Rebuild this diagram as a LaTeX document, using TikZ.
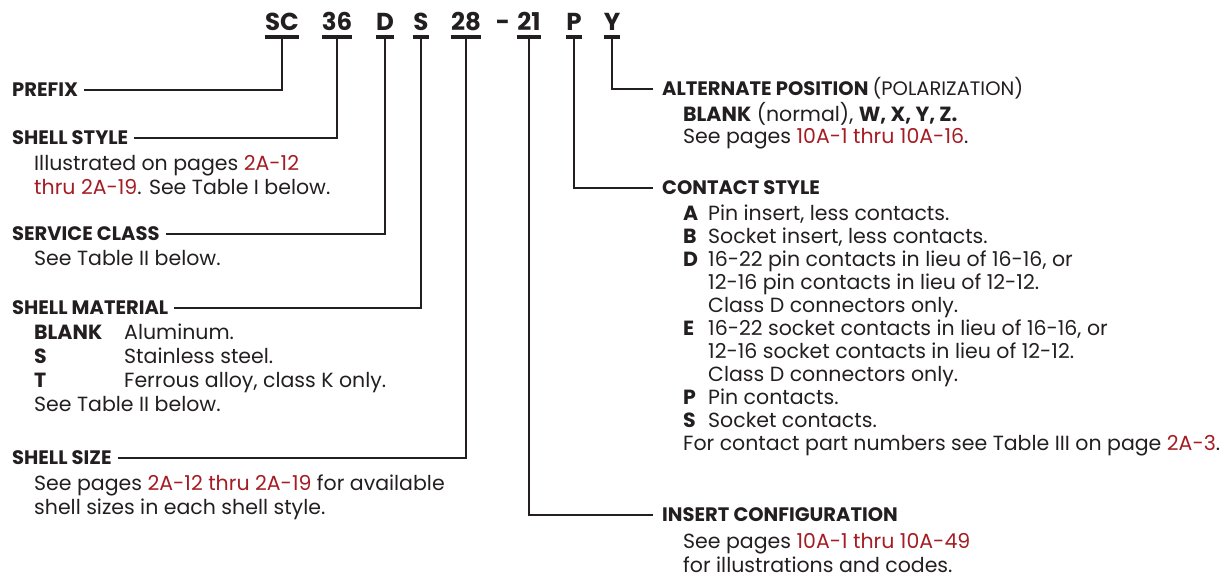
\documentclass[tikz,border=0pt]{standalone}
\usepackage{fontspec}
\setmainfont{Poppins}
\usepackage{xcolor}
\usepackage{tikz}
\usetikzlibrary{
    positioning
}

\definecolor{inkgray}{HTML}{231F20}
\definecolor{pagered}{HTML}{A51D24}

\newcommand{\pg}[1]{\textcolor{pagered}{#1}}
\newcommand{\lines}[1]{\begin{tabular}[t]{@{}l@{}}#1\end{tabular}}

\begin{document}
\begin{tikzpicture}[
    x=1pt, y=-1pt,
    color=inkgray,
    code/.style={
        font=\fontsize{24.5}{28}\selectfont\bfseries,
        inner sep=0pt,
        anchor=base
    },
    bar/.style={line width=4pt},
    lead/.style={line width=1.6pt},
    head/.style={
        font=\fontsize{19.5}{22}\selectfont\bfseries,
        anchor=west,
        inner xsep=6pt,
        inner ysep=0pt,
        text height=13.6pt,
        text depth=0pt
    },
    rhead/.style={head, inner xsep=9pt},
    desc/.style={
        font=\fontsize{20.5}{24.3}\selectfont,
        anchor=base west,
        inner sep=0pt
    },
    rdesc/.style={desc, font=\fontsize{20.5}{23}\selectfont}
]
\useasboundingbox (0,0) rectangle (1231,581);

% part number
\node[code] (sc) at (282,30) {SC};
\node[code] (n36) at (337,30) {36};
\node[code] (d) at (385,30) {D};
\node[code] (s) at (421,30) {S};
\node[code] (n28) at (466,30) {28};
\node[code] (dash) at (503,30) {-};
\node[code] (n21) at (529,30) {21};
\node[code] (p) at (574,30) {P};
\node[code] (y) at (612,30) {Y};

\foreach \n in {sc,n36,d,s,n28,n21,p,y}
    \draw[bar] ([yshift=-7pt]\n.base west) -- ([yshift=-7pt]\n.base east);

% left column
\node[head] (prefix) at (6,90) {PREFIX};

\node[head] (shellstyle) at (6,138) {SHELL STYLE};
\node[desc] (shellstyletxt) at (34,170)
{\lines{Illustrated on pages \pg{2A-12}\\ \pg{thru 2A-19}. See Table I below.}};

\node[head] (service) at (6,234) {SERVICE CLASS};
\node[desc] (servicetxt) at (34,265) {See Table II below.};

\node[head] (material) at (6,308) {SHELL MATERIAL};
\node[desc] (materialtxt) at (34,339)
{\begin{tabular}[t]{@{}p{90pt}@{}l@{}}
\textbf{BLANK} & Aluminum.\\
\textbf{S} & Stainless steel.\\
\textbf{T} & Ferrous alloy, class K only.\\
\multicolumn{2}{@{}l@{}}{See Table II below.}
\end{tabular}};

\node[head] (size) at (6,458) {SHELL SIZE};
\node[desc] (sizetxt) at (34,490)
{\lines{See pages \pg{2A-12 thru 2A-19} for available\\ shell sizes in each shell style.}};

% right column
\node[rhead] (altpos) at (653,89) {ALTERNATE POSITION \mdseries(POLARIZATION)};
\node[desc] (altpostxt) at (683,121)
{\begin{tabular}[t]{@{}l@{}}
\textbf{BLANK} (normal), \textbf{W, X, Y, Z.}\\[-2pt]
See pages \pg{10A-1 thru 10A-16}.
\end{tabular}};

\node[rhead] (contact) at (653,188) {CONTACT STYLE};
\node[rdesc] (contacttxt) at (683,220)
{\begin{tabular}[t]{@{}p{25pt}@{}l@{}}
\textbf{A} & Pin insert, less contacts.\\
\textbf{B} & Socket insert, less contacts.\\
\textbf{D} & 16-22 pin contacts in lieu of 16-16, or\\
 & 12-16 pin contacts in lieu of 12-12.\\
 & Class D connectors only.\\
\textbf{E} & 16-22 socket contacts in lieu of 16-16, or\\
 & 12-16 socket contacts in lieu of 12-12.\\
 & Class D connectors only.\\
\textbf{P} & Pin contacts.\\
\textbf{S} & Socket contacts.\\
\multicolumn{2}{@{}l@{}}{For contact part numbers see Table III on page \pg{2A-3}.}
\end{tabular}};

\node[rhead] (insert) at (653,515) {INSERT CONFIGURATION};
\node[desc] (inserttxt) at (683,548)
{\lines{See pages \pg{10A-1 thru 10A-49}\\ for illustrations and codes.}};

% leaders
\draw[lead] ([yshift=-7pt]sc.base) |- (prefix);
\draw[lead] ([yshift=-7pt]n36.base) |- (shellstyle);
\draw[lead] ([yshift=-7pt]d.base) |- (service);
\draw[lead] ([yshift=-7pt]s.base) |- (material);
\draw[lead] ([yshift=-7pt]n28.base) |- (size);
\draw[lead] ([yshift=-7pt]n21.base) |- (insert);
\draw[lead] ([yshift=-7pt]p.base) |- (contact);
\draw[lead] ([yshift=-7pt]y.base) |- (altpos);

\end{tikzpicture}
\end{document}
